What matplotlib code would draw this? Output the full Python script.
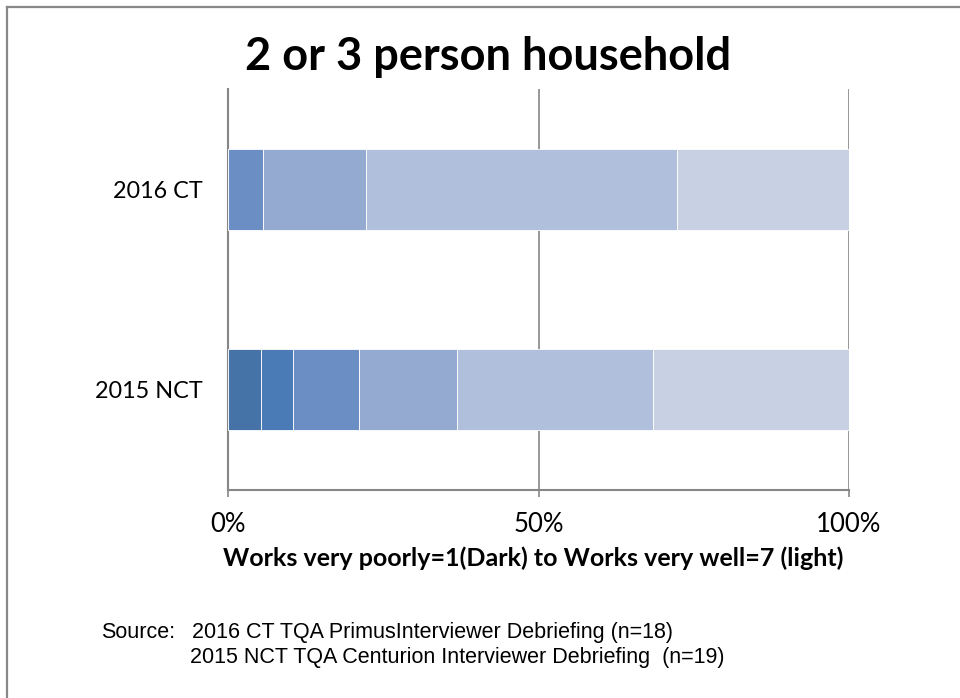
import numpy as np
import matplotlib.pyplot as plt
from matplotlib.lines import Line2D

# ratings 1 (works very poorly) .. 7 (works very well), counts per survey
ratings = [1, 2, 3, 4, 5, 6, 7]
surveys = ["2015 NCT", "2016 CT"]
counts_2015_nct = [0, 1, 1, 2, 3, 6, 6]   # n=19
counts_2016_ct = [0, 0, 0, 1, 3, 9, 5]    # n=18
rating_colors = ["#3d6699", "#4673a7", "#4a7bb7", "#6b8fc4",
                 "#95aad0", "#b0c0dc", "#c8d1e4"]
x_ticks = [0, 50, 100]
x_tick_labels = ["0%", "50%", "100%"]

counts = np.array([counts_2015_nct, counts_2016_ct], dtype=float)
shares = counts / counts.sum(axis=1, keepdims=True) * 100

W, H = 960, 698
fig = plt.figure(figsize=(W / 100, H / 100), dpi=100)
ax = fig.add_axes([228 / W, 1 - 490 / H, (849 - 228) / W, (490 - 89) / H])

y = np.arange(len(surveys))
left = np.zeros(len(surveys))
for i, r in enumerate(ratings):
    ax.barh(y, shares[:, i], left=left, height=0.405, color=rating_colors[i],
            edgecolor="white", linewidth=0.6, zorder=3)
    left += shares[:, i]

grid_col = "#868686"
ax.set_xlim(0, 100)
ax.set_ylim(-0.5, 1.5)
ax.set_xticks(x_ticks)
ax.set_xticklabels(x_tick_labels)
ax.set_yticks(y)
ax.set_yticklabels(surveys)
ax.xaxis.grid(True, color=grid_col, linewidth=1.2, zorder=0)
for s in ["top", "right"]:
    ax.spines[s].set_visible(False)
for s in ["left", "bottom"]:
    ax.spines[s].set_color(grid_col)
    ax.spines[s].set_linewidth(1.5)
ax.tick_params(axis="x", length=5, width=1.2, color=grid_col, pad=11,
               labelsize=18.5)
ax.tick_params(axis="y", length=0, pad=18, labelsize=16.8)
for lab in ax.get_xticklabels() + ax.get_yticklabels():
    lab.set_fontfamily("Lato")

ax.set_xlabel("Works very poorly=1(Dark) to Works very well=7 (light)",
              fontfamily="Lato", fontweight="bold", fontsize=18)
ax.xaxis.set_label_coords((533 - 228) / 621, -(546 - 490) / 401)

fig.text(488 / W, 1 - 57 / H, "2 or 3 person household", ha="center",
         va="center", fontfamily="Lato", fontweight="bold", fontsize=32.5)

src_font = dict(va="baseline", fontfamily="Liberation Sans", fontsize=15.5)
fig.text(101 / W, 1 - 638 / H, "Source:", **src_font)
fig.text(192 / W, 1 - 638 / H,
         "2016 CT TQA PrimusInterviewer Debriefing (n=18)", **src_font)
fig.text(190 / W, 1 - 663 / H,
         "2015 NCT TQA Centurion Interviewer Debriefing  (n=19)", **src_font)

# outer chart frame (top and left edges)
fig.add_artist(Line2D([7 / W, 1], [1 - 7 / H, 1 - 7 / H], color="#888888",
                      linewidth=1.6))
fig.add_artist(Line2D([7 / W, 7 / W], [0, 1 - 7 / H], color="#888888",
                      linewidth=1.6))

fig.savefig("out.png", dpi=100)
